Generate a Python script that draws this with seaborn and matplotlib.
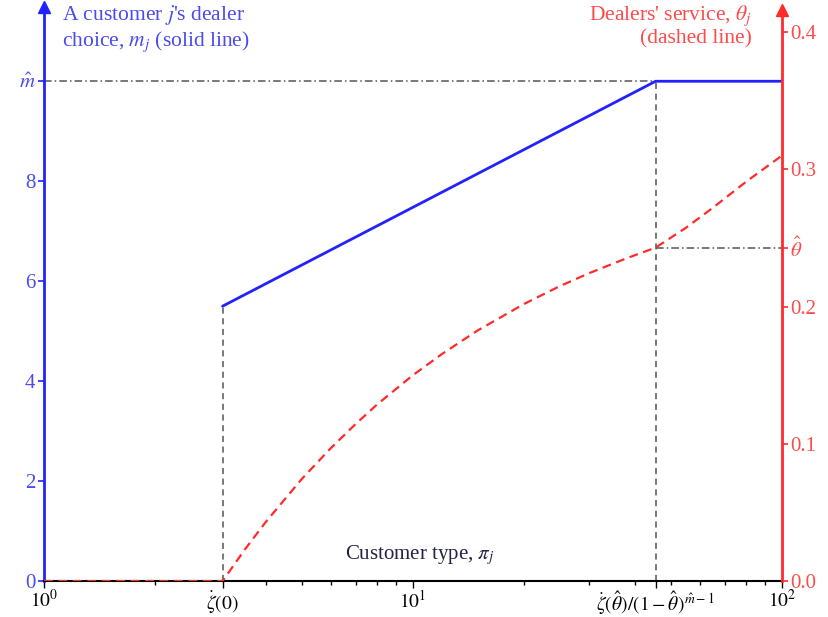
import matplotlib
matplotlib.use("Agg")
import matplotlib.pyplot as plt
import numpy as np
import pandas as pd
import seaborn as sns
from matplotlib.ticker import FixedLocator, NullFormatter

# key points on the customer-type axis
zeta0 = 3.05          # zeta(0)
pi_hat = 45.5         # zeta(theta_hat)/(1-theta_hat)^(m_hat-1)
m_hat = 10.0
theta_hat = 0.243

# dealer choice m_j (solid blue)
m_low_x = [1.0, zeta0]
m_low_y = [0.0, 0.0]
m_high_x = [zeta0, pi_hat, 100.0]
m_high_y = [5.5, m_hat, m_hat]

# dealers' service theta_j (dashed red)
theta_x = [1.0, 3.05, 3.5, 4.0, 5.0, 6.0, 7.0, 8.0, 10.0, 12.0, 15.0, 20.0, 25.0, 30.0, 38.0,
           45.5, 55.0, 65.0, 80.0, 100.0]
theta_y = [0.0, 0.0, 0.0228, 0.0433, 0.0744, 0.097, 0.1145, 0.1287, 0.150, 0.1655, 0.1827,
           0.2019, 0.2149, 0.2243, 0.2353, 0.243, 0.2575, 0.272, 0.291, 0.31]

left_ticks = [0, 2, 4, 6, 8, m_hat]
left_labels = ["0", "2", "4", "6", "8", r"$\hat{m}$"]
right_ticks = [0.0, 0.1, 0.2, theta_hat, 0.3, 0.4]
right_labels = ["0.0", "0.1", "0.2", r"$\hat{\theta}$", "0.3", "0.4"]
x_ticks = [1, zeta0, 10, pi_hat, 100]
x_labels = [r"$10^0$", r"$\dot{\zeta}(0)$", r"$10^1$",
            r"$\dot{\zeta}(\hat{\theta})/(1-\hat{\theta})^{\hat{m}-1}$", r"$10^2$"]

sns.set_style("ticks")
plt.rcParams["font.family"] = ["Liberation Serif", "DejaVu Serif"]
plt.rcParams["mathtext.fontset"] = "stix"

blue = "#2222ff"
red = "#ff2a2a"
blue_txt = "#4a4aee"
red_txt = "#ff4a4a"
grey = "#555555"

fig = plt.figure(figsize=(8.29, 6.17), dpi=100)
ax = fig.add_axes([0.053, 0.0583, 0.890, 0.925])
ax2 = ax.twinx()

ax.set_xscale("log")
ax.set_xlim(1, 100)
ax.set_ylim(0, 11.42)
ax2.set_ylim(0, 0.416)

# guide lines
ax.plot([1, pi_hat], [m_hat, m_hat], color=grey, lw=1.1, dashes=(5, 2, 1, 2))
ax.plot([zeta0, zeta0], [0, 5.5], color=grey, lw=1.1, dashes=(4, 3))
ax.plot([pi_hat, pi_hat], [0, m_hat], color=grey, lw=1.1, dashes=(4, 3))
ax2.plot([pi_hat, 100], [theta_hat, theta_hat], color=grey, lw=1.1, dashes=(5, 2, 1, 2))

df_lo = pd.DataFrame({"x": m_low_x, "m": m_low_y})
df_hi = pd.DataFrame({"x": m_high_x, "m": m_high_y})
df_th = pd.DataFrame({"x": theta_x, "theta": theta_y})

sns.lineplot(data=df_lo, x="x", y="m", ax=ax, color=blue, lw=2.2, linestyle=":")
sns.lineplot(data=df_hi, x="x", y="m", ax=ax, color=blue, lw=2.0)
sns.lineplot(data=df_th, x="x", y="theta", ax=ax2, color=red, lw=1.6, linestyle=(0, (4, 2.5)))

# axes styling
for s in ["top", "right"]:
    ax.spines[s].set_visible(False)
for s in ["top", "left", "bottom"]:
    ax2.spines[s].set_visible(False)
ax.spines["left"].set_color(blue)
ax.spines["left"].set_linewidth(2)
ax.spines["bottom"].set_color("black")
ax.spines["bottom"].set_linewidth(1.5)
ax2.spines["right"].set_color(red)
ax2.spines["right"].set_linewidth(2)

ax.set_yticks(left_ticks)
ax.set_yticklabels(left_labels)
ax2.set_yticks(right_ticks)
ax2.set_yticklabels(right_labels)
ax.tick_params(axis="y", colors=blue, labelcolor=blue_txt, labelsize=15, length=4, width=1.2, pad=2)
ax2.tick_params(axis="y", colors=red, labelcolor=red_txt, labelsize=15, length=4, width=1.2, pad=2)

ax.xaxis.set_major_locator(FixedLocator(x_ticks))
ax.set_xticklabels(x_labels)
ax.xaxis.set_minor_locator(FixedLocator([2, 4, 5, 6, 7, 8, 9, 20, 30, 40, 50, 60, 70, 80, 90]))
ax.xaxis.set_minor_formatter(NullFormatter())
ax.tick_params(axis="x", which="major", labelsize=14, length=5, width=1, pad=1, colors="black")
ax.tick_params(axis="x", which="minor", length=3, width=1, colors="black")
ax.set_xlabel("")
ax.set_ylabel("")
ax2.set_ylabel("")

# arrow heads on the vertical axes
ax.plot([0], [1.005], marker="^", color=blue, ms=8, transform=ax.transAxes, clip_on=False)
ax2.plot([1], [1.0], marker="^", color=red, ms=8, transform=ax2.transAxes, clip_on=False)

fig.text(62 / 829, 1 - 3 / 617, "A customer $j$'s dealer\nchoice, $m_j$ (solid line)",
         color=blue_txt, fontsize=15.5, ha="left", va="top", linespacing=1.15)
fig.text(752 / 829, 1 - 3 / 617, "Dealers' service, $\\theta_j$\n(dashed line)",
         color=red_txt, fontsize=15.5, ha="right", va="top", multialignment="right", linespacing=1.15)
fig.text(420 / 829, 1 - 555 / 617, "Customer type, $\\pi_j$",
         color="#222244", fontsize=15, ha="center", va="center")

fig.savefig("out.png", dpi=100)
